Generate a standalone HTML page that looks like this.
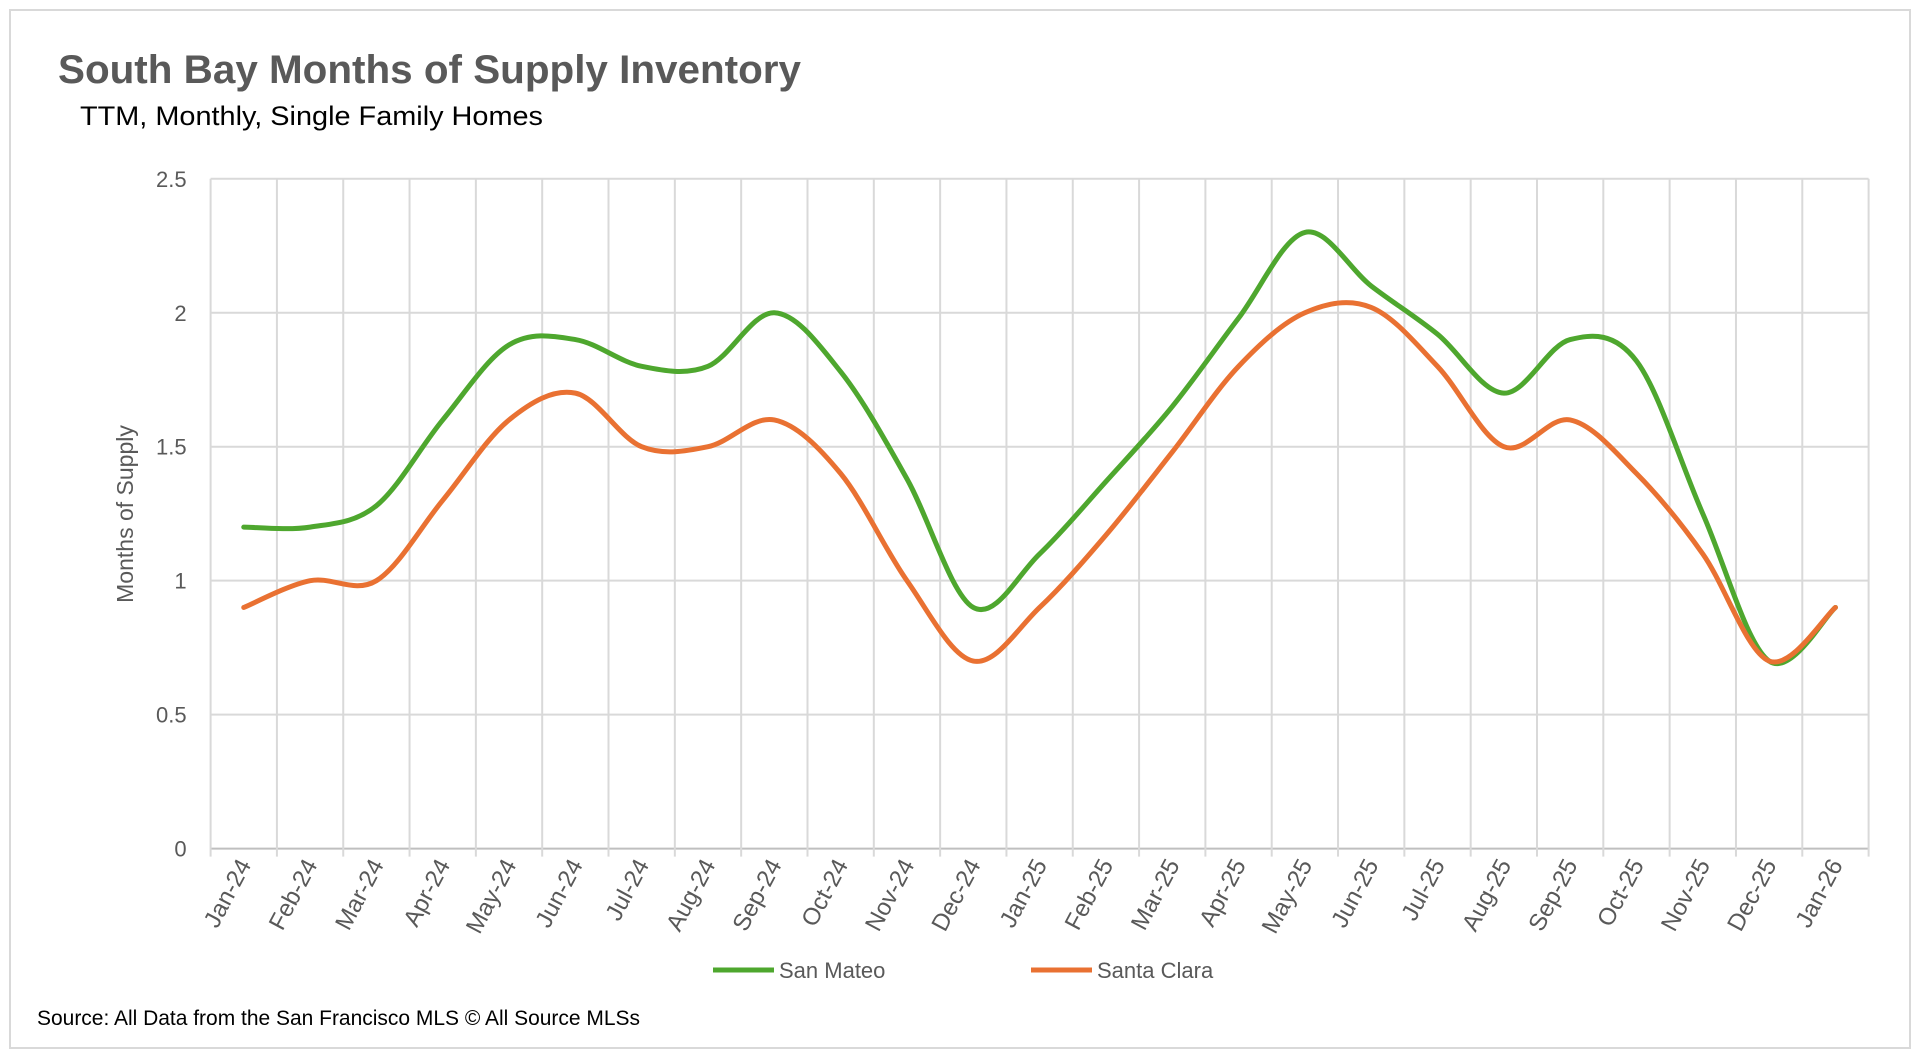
<!DOCTYPE html>
<html><head><meta charset="utf-8"><style>
html,body{margin:0;padding:0;background:#fff;}
svg{display:block;font-family:"Liberation Sans",sans-serif;}
</style></head><body>
<svg id="chart" width="1920" height="1054" viewBox="0 0 1920 1054">
<rect x="10" y="10" width="1900" height="1038" fill="#fff" stroke="#d9d9d9" stroke-width="2"/>
<text x="58" y="83" font-size="40" font-weight="bold" fill="#595959" textLength="743" lengthAdjust="spacingAndGlyphs">South Bay Months of Supply Inventory</text>
<text x="80" y="125" font-size="27" fill="#000" textLength="463" lengthAdjust="spacingAndGlyphs">TTM, Monthly, Single Family Homes</text>
<g id="grid"></g>
<g id="yticks"></g>
<g id="xticks"></g>
<g id="series"></g>
<text transform="translate(133,514) rotate(-90)" text-anchor="middle" font-size="23" fill="#595959">Months of Supply</text>
<g>
<g><line x1="713" y1="970" x2="774" y2="970" stroke="#4ea72e" stroke-width="5"/><text x="779" y="978" font-size="22" fill="#595959">San Mateo</text></g>
<g><line x1="1031" y1="970" x2="1092" y2="970" stroke="#e97132" stroke-width="5"/><text x="1097" y="978" font-size="22" fill="#595959">Santa Clara</text></g>
</g>
<text x="37" y="1025" font-size="21" fill="#000" textLength="603" lengthAdjust="spacingAndGlyphs">Source: All Data from the San Francisco MLS © All Source MLSs</text>
</svg>
<script>
const categories=["Jan-24","Feb-24","Mar-24","Apr-24","May-24","Jun-24","Jul-24","Aug-24","Sep-24","Oct-24","Nov-24","Dec-24","Jan-25","Feb-25","Mar-25","Apr-25","May-25","Jun-25","Jul-25","Aug-25","Sep-25","Oct-25","Nov-25","Dec-25","Jan-26"];
const sanMateo=[1.2,1.2,1.28,1.6,1.88,1.9,1.8,1.8,2.0,1.78,1.38,0.9,1.1,1.37,1.65,1.98,2.3,2.1,1.92,1.7,1.9,1.82,1.25,0.7,0.9];
const santaClara=[0.9,1.0,1.0,1.3,1.6,1.7,1.5,1.5,1.6,1.4,1.0,0.7,0.9,1.17,1.48,1.8,2.0,2.02,1.8,1.5,1.6,1.4,1.1,0.7,0.9];
const yTicks=[0,0.5,1,1.5,2,2.5];
const yTickLabels=["0","0.5","1","1.5","2","2.5"];
const NS="http://www.w3.org/2000/svg";
const L=210.6,R=1868.6,T=178.8,B=848.6,yMax=2.5;
const bw=(R-L)/categories.length;
function xS(i){return L+bw*(i+0.5);}
function yS(v){return B-(v/yMax)*(B-T);}
function mk(tag,attrs,parent){const e=document.createElementNS(NS,tag);for(const k in attrs)e.setAttribute(k,attrs[k]);parent.appendChild(e);return e;}
const grid=document.getElementById('grid'),yt=document.getElementById('yticks'),xt=document.getElementById('xticks'),ser=document.getElementById('series');
yTicks.forEach((v,i)=>{
 const l=mk('line',{x1:L,x2:R,y1:yS(v),y2:yS(v),stroke:v===0?'#bfbfbf':'#d9d9d9','stroke-width':2},grid);
 
 
 const t=mk('text',{x:L-24,y:yS(v)+8,'text-anchor':'end','font-size':22,fill:'#595959'},yt);
 t.textContent=yTickLabels[i];
 
 
});
for(let i=0;i<=categories.length;i++){
 const x=L+bw*i;
 const l=mk('line',{x1:x,x2:x,y1:T,y2:B+8,stroke:'#d9d9d9','stroke-width':2},grid);
 
 
}
categories.forEach((c,i)=>{
 const x=xS(i)+8,y=B+16;
 const t=mk('text',{x:0,y:0,'text-anchor':'end','font-size':24,fill:'#595959',transform:`translate(${x},${y}) rotate(-62)`},xt);
 t.textContent=c;
 
 
});
function path(vals){
 const p=vals.map((v,i)=>[xS(i),yS(v)]);
 let d=`M${p[0][0]},${p[0][1]}`;
 for(let i=0;i<p.length-1;i++){
  const p0=p[Math.max(0,i-1)],p1=p[i],p2=p[i+1],p3=p[Math.min(p.length-1,i+2)];
  const k=1/6;
  d+=` C${p1[0]+(p2[0]-p0[0])*k},${p1[1]+(p2[1]-p0[1])*k} ${p2[0]-(p3[0]-p1[0])*k},${p2[1]-(p3[1]-p1[1])*k} ${p2[0]},${p2[1]}`;
 }
 return d;
}
const s1=mk('path',{d:path(sanMateo),fill:'none',stroke:'#4ea72e','stroke-width':5,'stroke-linecap':'round'},ser);


const s2=mk('path',{d:path(santaClara),fill:'none',stroke:'#e97132','stroke-width':5,'stroke-linecap':'round'},ser);


</script>
</body></html>
